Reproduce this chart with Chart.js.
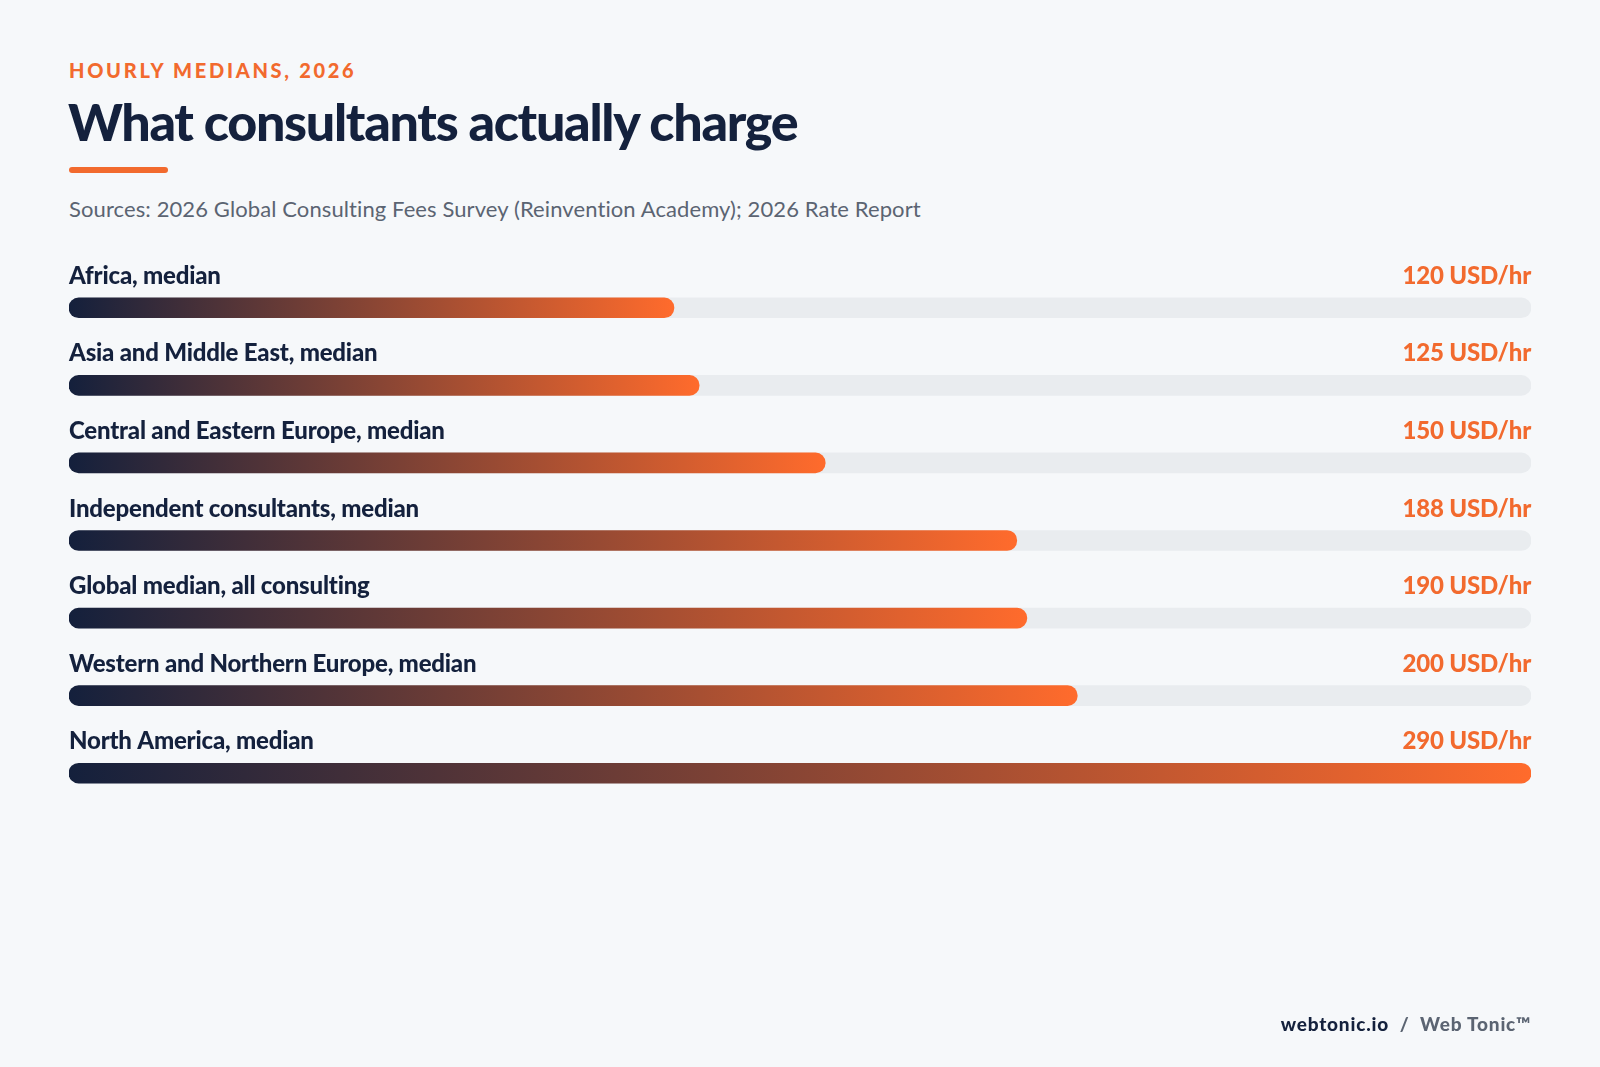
<!DOCTYPE html>
<html><head><meta charset="utf-8">
<script src="https://cdn.jsdelivr.net/npm/chart.js@4"></script>
<style>
html,body{margin:0;padding:0;background:#f6f8fa;width:1600px;height:1067px;overflow:hidden;font-family:Lato,sans-serif;}
#wrap{position:relative;width:1600px;height:1067px;}
canvas{position:absolute;left:0;top:0;}
.kicker{position:absolute;left:69px;top:58px;color:#f26a2e;font-weight:900;font-size:20px;letter-spacing:2.7px;}
.title{position:absolute;left:68px;top:90px;color:#14213d;font-weight:900;font-size:52px;letter-spacing:-1.3px;}
.rule{position:absolute;left:69px;top:167px;width:99px;height:6px;border-radius:3px;background:#f26a2e;}
.src{position:absolute;left:69px;top:195px;color:#5b6472;font-size:22px;letter-spacing:0.1px;}
.foot{position:absolute;right:69px;top:1012px;font-size:19px;font-weight:900;color:#14213d;letter-spacing:0.8px;}
.foot span{color:#5b6472;}
</style></head><body><div id="wrap">
<div class="kicker">HOURLY MEDIANS, 2026</div>
<div class="title">What consultants actually charge</div>
<div class="rule"></div>
<div class="src">Sources: 2026 Global Consulting Fees Survey (Reinvention Academy); 2026 Rate Report</div>
<canvas id="c" width="1600" height="1067"></canvas>
<div class="foot">webtonic.io <span>&nbsp;/&nbsp; Web Tonic™</span></div>
</div>
<script>
const categories=["Africa, median","Asia and Middle East, median","Central and Eastern Europe, median","Independent consultants, median","Global median, all consulting","Western and Northern Europe, median","North America, median"];
const values=[120,125,150,188,190,200,290];
const maxValue=290;
const unit=" USD/hr";

const labelsPlugin={id:'lbl',afterDatasetsDraw(chart){
  const ctx=chart.ctx, meta=chart.getDatasetMeta(1);
  ctx.save();ctx.textBaseline='alphabetic';
  try{ctx.letterSpacing='-0.2px';}catch(e){}
  meta.data.forEach((el,i)=>{
    const y=el.y-24;
    ctx.font='900 24px Lato';ctx.fillStyle='#14213d';ctx.textAlign='left';
    ctx.fillText(categories[i],chart.chartArea.left,y);
    ctx.fillStyle='#f26a2e';ctx.textAlign='right';
    ctx.fillText(values[i]+unit,chart.chartArea.right,y);
  });
  ctx.restore();
}};
function grad(c){
  const chart=c.chart;const a=chart.chartArea;if(!a)return '#f26a2e';
  const xs=chart.scales.x;const x0=xs.getPixelForValue(0),x1=xs.getPixelForValue(values[c.dataIndex]);
  const g=chart.ctx.createLinearGradient(x0,0,x1,0);
  g.addColorStop(0,'#14203c');g.addColorStop(1,'#ff6b2c');return g;
}
new Chart(document.getElementById('c'),{type:'bar',
 data:{labels:categories,datasets:[
  {data:categories.map(()=>maxValue),backgroundColor:'#e9ecef',borderRadius:20,borderSkipped:false,barThickness:20,grouped:false,order:2},
  {data:values,backgroundColor:grad,borderRadius:20,borderSkipped:false,barThickness:20,grouped:false,order:1}
 ]},
 options:{indexAxis:'y',responsive:false,animation:false,
  layout:{padding:{left:69,right:69,top:269,bottom:255}},
  plugins:{legend:{display:false},tooltip:{enabled:false}},
  scales:{x:{display:false,min:0,max:maxValue},y:{display:false}}},
 plugins:[labelsPlugin]});
</script></body></html>
